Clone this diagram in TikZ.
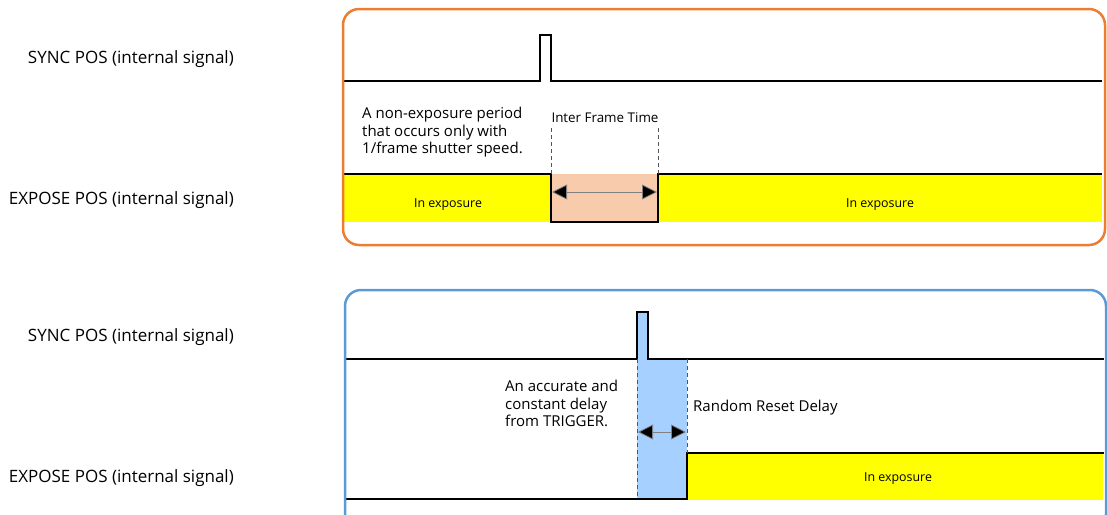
\documentclass[tikz,border=0pt]{standalone}
\usepackage{fontspec}
\setmainfont{Open Sans}
\usetikzlibrary{arrows.meta}
\definecolor{orng}{HTML}{ED7D31}
\definecolor{blu}{HTML}{5B9BD5}
\definecolor{peach}{HTML}{F8CBAD}
\definecolor{lblue}{HTML}{A6D0FF}
\definecolor{yel}{HTML}{FFFF00}
\definecolor{dgray}{HTML}{555555}
\tikzset{
  sig/.style={draw=black, line width=2pt, line join=miter},
  panel/.style={line width=2.5pt, rounded corners=16pt},
  guide/.style={draw=dgray, line width=0.9pt, dash pattern=on 4pt off 3pt},
  span/.style={draw=gray, line width=0.8pt, {Triangle[length=15pt,width=15pt,fill=black]}-{Triangle[length=15pt,width=15pt,fill=black]}},
  lbl/.style={font=\fontsize{17}{20}\selectfont, inner sep=0pt},
  note/.style={font=\fontsize{15}{17.5}\selectfont, inner sep=0pt, align=left},
  small/.style={font=\fontsize{12.4}{14}\selectfont, inner sep=0pt},
  mid/.style={font=\fontsize{13.4}{15}\selectfont, inner sep=0pt}
}
\begin{document}
\begin{tikzpicture}[x=1pt,y=-1pt]
\useasboundingbox (0,0) rectangle (1107,514);
\clip (0,0) rectangle (1107,514);
% ---------- top panel ----------
\fill[yel] (343,174) rectangle (551,222);
\fill[yel] (658,174) rectangle (1102,222);
\fill[peach] (551,174) rectangle (658,222);
\draw[sig] (343,81) -- (540,81) -- (540,35) -- (551,35) -- (551,81) -- (1102,81);
\draw[sig] (343,174) -- (551,174) -- (551,222) -- (658,222) -- (658,174) -- (1102,174);
\draw[guide] (551,128) -- (551,174);
\draw[guide] (658,128) -- (658,174);
\coordinate (a1) at (552,192);
\coordinate (a2) at (657,192);
\draw[span] (a1) -- (a2);
\draw[orng, panel] (343,9) rectangle (1105,245);
\node[lbl, anchor=east] (s1) at (234,59) {SYNC POS (internal signal)};
\node[lbl, anchor=east] (e1) at (234,200) {EXPOSE POS (internal signal)};
\node[note, anchor=north west] (n1) at (362,107) {A non-exposure period\\that occurs only with\\1/frame shutter speed.};
\node[mid] (ift) at (605,118) {Inter Frame Time};
\node[small] (ie1) at (448,205) {In exposure};
\node[small] (ie2) at (880,205) {In exposure};
% ---------- bottom panel ----------
\fill[lblue] (637,312) -- (648,312) -- (648,359) -- (687,359) -- (687,499) -- (637,499) -- cycle;
\fill[yel] (687,453) rectangle (1103,500);
\draw[sig] (345,359) -- (637,359) -- (637,312) -- (648,312) -- (648,359) -- (1104,359);
\draw[sig] (345,499) -- (687,499) -- (687,453) -- (1104,453);
\draw[guide] (637,359) -- (637,499);
\draw[guide] (687,359) -- (687,453);
\coordinate (b1) at (638,432);
\coordinate (b2) at (686,432);
\draw[span] (b1) -- (b2);
\draw[blu, panel] (345,290) rectangle (1106,530);
\node[lbl, anchor=east] (s2) at (234,337) {SYNC POS (internal signal)};
\node[lbl, anchor=east] (e2) at (234,478) {EXPOSE POS (internal signal)};
\node[note, anchor=north west] (n2) at (505,380) {An accurate and\\constant delay\\from TRIGGER.};
\node[note, anchor=west] (rrd) at (693,408) {Random Reset Delay};
\node[small] (ie3) at (898,479) {In exposure};
\end{tikzpicture}
\end{document}
